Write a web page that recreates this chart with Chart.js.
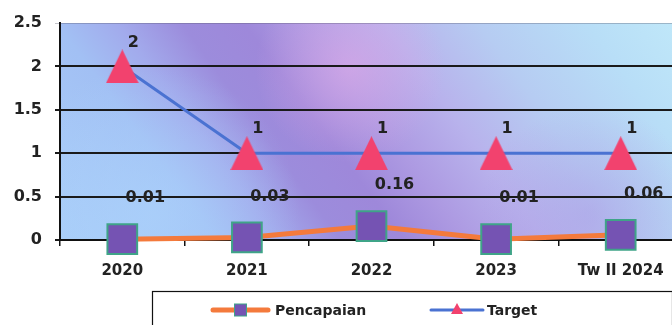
<!DOCTYPE html>
<html>
<head>
<meta charset="utf-8">
<script src="https://cdn.jsdelivr.net/npm/chart.js@4.4.1/dist/chart.umd.min.js"></script>
<style>
  html, body { margin: 0; padding: 0; background: #ffffff; overflow: hidden; }
  #wrap { width: 706px; height: 325px; }
</style>
</head>
<body>
<div id="wrap"><canvas id="c" width="706" height="325"></canvas></div>
<script>
// Categories and series
const categories = ['2020', '2021', '2022', '2023', 'Tw II 2024'];
const pencapaian = [0.01, 0.03, 0.16, 0.01, 0.06];
const target = [2, 1, 1, 1, 1];
const yTicks = [0, 0.5, 1, 1.5, 2, 2.5];

const FONT = '"DejaVu Sans", sans-serif';
const TEXT = '#222222';

// Tall triangle marker for the target series
function makeTriangle(w, h, color) {
  const cv = document.createElement('canvas');
  cv.width = w; cv.height = h;
  const c = cv.getContext('2d');
  c.fillStyle = color;
  c.beginPath();
  c.moveTo(w / 2, 0);
  c.lineTo(w, h);
  c.lineTo(0, h);
  c.closePath();
  c.fill();
  return cv;
}
const triangleMarker = makeTriangle(33, 34, '#f2426e');

// Slanted blue / violet wash behind the plot
const backdrop = {
  id: 'backdrop',
  beforeDraw(chart) {
    const { ctx, chartArea: a } = chart;
    const w = a.right - a.left, h = a.bottom - a.top;
    ctx.save();
    const g = ctx.createLinearGradient(a.left, a.bottom, a.left + 506, a.bottom - 373);
    g.addColorStop(0.00, '#a9cdf8');
    g.addColorStop(0.20, '#a2c0f4');
    g.addColorStop(0.28, '#a2aaec');
    g.addColorStop(0.36, '#9c8cdc');
    g.addColorStop(0.44, '#9e88da');
    g.addColorStop(0.52, '#ad9ae2');
    g.addColorStop(0.62, '#b8b2ec');
    g.addColorStop(0.74, '#b6ccf2');
    g.addColorStop(0.88, '#b8def7');
    g.addColorStop(1.00, '#c0e8f9');
    ctx.fillStyle = g;
    ctx.fillRect(a.left, a.top, w, h);
    const r1 = ctx.createRadialGradient(a.left + 290, a.top + 45, 4, a.left + 290, a.top + 45, 95);
    r1.addColorStop(0, 'rgba(222,170,232,0.6)');
    r1.addColorStop(1, 'rgba(222,170,232,0)');
    ctx.fillStyle = r1;
    ctx.fillRect(a.left, a.top, w, h);
    const r2 = ctx.createRadialGradient(a.left + 90, a.bottom - 25, 5, a.left + 90, a.bottom - 25, 150);
    r2.addColorStop(0, 'rgba(172,212,252,0.6)');
    r2.addColorStop(1, 'rgba(172,212,252,0)');
    ctx.fillStyle = r2;
    ctx.fillRect(a.left, a.top, w, h);
    const r3 = ctx.createRadialGradient(a.left + 530, a.bottom - 25, 5, a.left + 530, a.bottom - 25, 110);
    r3.addColorStop(0, 'rgba(170,150,228,0.45)');
    r3.addColorStop(1, 'rgba(170,150,228,0)');
    ctx.fillStyle = r3;
    ctx.fillRect(a.left, a.top, w, h);
    ctx.restore();
  }
};

// Value labels next to each point
const valueLabels = {
  id: 'valueLabels',
  afterDatasetsDraw(chart) {
    const { ctx } = chart;
    ctx.save();
    ctx.fillStyle = TEXT;
    ctx.textAlign = 'center';
    ctx.textBaseline = 'middle';
    ctx.font = 'bold 16px ' + FONT;
    chart.data.datasets.forEach((ds, i) => {
      const meta = chart.getDatasetMeta(i);
      const off = i === 0 ? { dx: 23, dy: -41 } : { dx: 11, dy: -24 };
      meta.data.forEach((pt, j) => {
        ctx.fillText(String(ds.data[j]), pt.x + off.dx, pt.y + off.dy);
      });
    });
    ctx.restore();
  }
};

// Boxed legend under the axis
const boxLegend = {
  id: 'boxLegend',
  afterDraw(chart) {
    const { ctx } = chart;
    ctx.save();
    ctx.strokeStyle = '#111111';
    ctx.lineWidth = 1.2;
    ctx.strokeRect(152.5, 291.5, 520, 60);
    const items = [
      { x0: 213, x1: 268, tx: 275 },
      { x0: 431, x1: 483, tx: 487 }
    ];
    const y = 310;
    chart.data.datasets.forEach((ds, i) => {
      const it = items[i];
      ctx.strokeStyle = ds.borderColor;
      ctx.lineWidth = ds.borderWidth;
      ctx.lineCap = 'round';
      ctx.beginPath();
      ctx.moveTo(it.x0, y);
      ctx.lineTo(it.x1, y);
      ctx.stroke();
      const cx = (it.x0 + it.x1) / 2;
      if (i === 0) {
        ctx.fillStyle = ds.pointBackgroundColor;
        ctx.fillRect(cx - 6, y - 6, 12, 12);
        ctx.strokeStyle = ds.pointBorderColor;
        ctx.lineWidth = 1;
        ctx.strokeRect(cx - 6, y - 6, 12, 12);
      } else {
        ctx.fillStyle = '#f2426e';
        ctx.beginPath();
        ctx.moveTo(cx, y - 7);
        ctx.lineTo(cx + 6, y + 4);
        ctx.lineTo(cx - 6, y + 4);
        ctx.closePath();
        ctx.fill();
      }
      ctx.fillStyle = TEXT;
      ctx.font = 'bold 14px ' + FONT;
      ctx.textAlign = 'left';
      ctx.textBaseline = 'middle';
      ctx.fillText(ds.label, it.tx, y + 1);
    });
    ctx.restore();
  }
};

new Chart(document.getElementById('c'), {
  type: 'line',
  data: {
    labels: categories,
    datasets: [
      {
        label: 'Pencapaian',
        data: pencapaian,
        borderColor: '#f47a3c',
        borderWidth: 5,
        tension: 0,
        clip: false,
        pointStyle: 'rect',
        pointRadius: 21,
        pointHoverRadius: 21,
        pointBackgroundColor: '#7553b3',
        pointBorderColor: '#3fa488',
        pointBorderWidth: 2
      },
      {
        label: 'Target',
        data: target,
        borderColor: '#4a72d2',
        borderWidth: 3,
        tension: 0,
        clip: false,
        pointStyle: triangleMarker,
        pointRadius: 17,
        pointHoverRadius: 17
      }
    ]
  },
  options: {
    responsive: false,
    animation: false,
    events: [],
    layout: { padding: { top: 23, left: 0, right: 0, bottom: 0 } },
    plugins: {
      legend: { display: false },
      tooltip: { enabled: false }
    },
    scales: {
      x: {
        offset: true,
        afterFit: (s) => { s.height = 85; },
        grid: {
          offset: true,
          drawOnChartArea: false,
          drawTicks: true,
          tickLength: 6,
          color: '#111111',
          lineWidth: 1.5
        },
        border: { display: true, color: '#111111', width: 2 },
        ticks: {
          color: TEXT,
          padding: 16,
          maxRotation: 0,
          font: { family: FONT, size: 15, weight: 'bold' }
        }
      },
      y: {
        min: 0,
        max: 2.5,
        afterFit: (s) => { s.width = 60; },
        afterBuildTicks: (s) => { s.ticks = yTicks.map(v => ({ value: v })); },
        grid: {
          color: (c) => (c.tick && c.tick.value === 2.5) ? 'rgba(90,90,110,0.35)' : '#1a1a1a',
          lineWidth: (c) => (c.tick && c.tick.value === 2.5) ? 1 : 2,
          tickLength: 5
        },
        border: { display: true, color: '#111111', width: 2 },
        ticks: {
          color: TEXT,
          padding: 13,
          font: { family: FONT, size: 16, weight: 'bold' },
          callback: (v) => String(v)
        }
      }
    }
  },
  plugins: [backdrop, valueLabels, boxLegend]
});
</script>
</body>
</html>
